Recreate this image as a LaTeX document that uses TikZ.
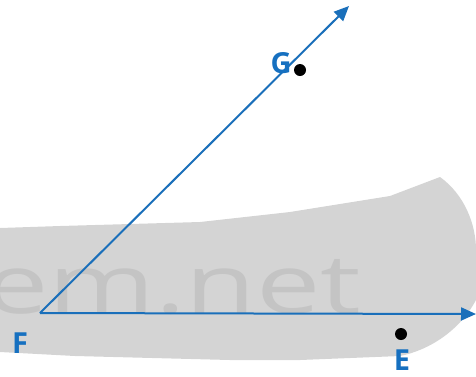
\documentclass[tikz,border=0pt]{standalone}
\usepackage{fontspec}
\setmainfont{Open Sans}
\usetikzlibrary{arrows.meta}
\definecolor{rayblue}{HTML}{1A6FBA}
\definecolor{lblblue}{HTML}{1670C0}
\definecolor{wmgray}{HTML}{D4D4D4}
\definecolor{wmtext}{HTML}{C4C4C4}
\tikzset{
  ray/.style={draw=rayblue, line width=2pt, -{Triangle[length=15pt,width=13pt]}},
  lbl/.style={text=lblblue, font=\fontsize{29}{29}\selectfont\bfseries, inner sep=0pt},
  pt/.style={circle, fill=black, inner sep=0pt, minimum size=12pt},
}
\begin{document}
\begin{tikzpicture}[x=1pt,y=-1pt]
\useasboundingbox (0,0) rectangle (476,376);
% watermark blob
\begin{scope}
\clip (0,0) rectangle (476,376);
\fill[wmgray] (0,228) -- (60,226) -- (200,222) -- (290,212) -- (390,196) -- (440,177)
  .. controls (465,195) and (476,225) .. (476,250) -- (476,300)
  .. controls (460,330) and (430,350) .. (400,356) -- (300,360) -- (230,360) -- (75,356) -- (0,352) -- cycle;
\node[text=wmtext, font=\fontsize{82}{82}\selectfont, anchor=base west, inner sep=0pt, xscale=1.4] (wm) at (-16,313) {em.net};
\end{scope}
% rays
\coordinate (F) at (40,313);
\coordinate (A) at (349,6);
\coordinate (B) at (476,314);
\draw[ray] (F) -- (A);
\draw[ray] (F) -- (B);
% points
\node[pt] (G) at (300,70) {};
\node[pt] (E) at (401,334) {};
\node[lbl] (lG) at (281,63) {G};
\node[lbl] (lE) at (402,360) {E};
\node[lbl] (lF) at (20,343) {F};
\end{tikzpicture}
\end{document}
